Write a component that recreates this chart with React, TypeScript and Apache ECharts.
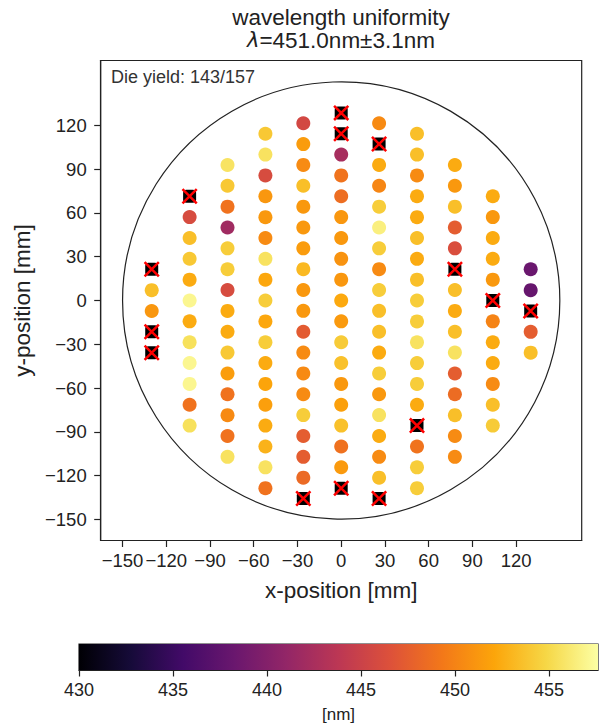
import React, { useEffect, useRef } from "react";
import * as echarts from "echarts";

// Die layout: column x-positions [mm], y of the top die in each column [mm], die pitch in y [mm]
const columnX = [-130, -104, -78, -52, -26, 0, 26, 52, 78, 104, 130];
const columnTopY = [21.4, 71.45, 92.9, 114.3, 121.5, 128.6, 121.5, 114.3, 92.9, 71.45, 21.4];
const dieYPitch = 14.29;

// Peak wavelength [nm] per die, top to bottom in each column; null = failed die
const colM130 = [null, 453.5, 451.2, null, null];
const colM104 = [null, 446.0, 453.5, 454.0, 452.4, 457.0, 452.4, 455.5, 457.0, 457.0, 448.9, 455.5];
const colM78 = [455.7, 454.0, 448.9, 441.9, 454.3, 454.3, 446.0, 452.4, 452.4, 454.0, 451.6, 448.9, 450.4, 448.9, 455.6];
const colM52 = [454.0, 455.6, 446.0, 451.2, 451.3, 450.5, 455.6, 452.2, 454.3, 452.2, 454.3, 452.4, 452.0, 451.7, 452.4, 452.8, 455.6, 448.9];
const colM26 = [445.6, 451.5, 450.5, 453.5, 451.3, 451.3, 451.5, 453.2, 451.3, 451.3, 447.3, 450.5, 450.4, 450.5, 454.3, 447.4, 447.4, 448.3, null];
const col0 = [null, null, 442.4, 449.0, 448.6, 451.2, 451.3, 451.0, 451.2, 452.3, 451.4, 454.2, 453.6, 451.3, 451.8, 453.6, 448.8, 451.4, null];
const colP26 = [450.4, null, 452.4, 450.2, 454.3, 456.5, 454.3, 450.5, 454.3, 453.5, 453.5, 452.4, 454.3, 451.3, 455.6, 452.4, 450.5, 453.5, null];
const colP52 = [453.5, 453.5, 450.5, 452.4, 452.4, 453.5, 452.4, 453.5, 454.3, 454.3, 455.6, 454.3, 454.3, 452.4, null, 449.0, 454.3, 454.3];
const colP78 = [452.4, 451.3, 453.5, 447.4, 446.2, null, 453.5, 452.4, 453.5, 455.6, 447.4, 448.5, 453.5, 450.5, 450.5];
const colP104 = [452.4, 451.3, 452.4, 452.4, 451.3, null, 450.0, 452.4, 452.4, 450.5, 453.5, 454.2];
const colP130 = [438.3, 438.0, null, 447.4, 453.5];
const wavelengthByColumn = [colM130, colM104, colM78, colM52, colM26, col0, colP26, colP52, colP78, colP104, colP130];

const axisTicks = [-150, -120, -90, -60, -30, 0, 30, 60, 90, 120];
const colorbarTicks = [430, 435, 440, 445, 450, 455];
const colorMin = 430;
const colorMax = 457.6;
const waferRadius = 150;
const inferno = [
  "#000004", "#160b39", "#420a68", "#6a176e", "#932667", "#bc3754",
  "#dd513a", "#f37819", "#fca50a", "#f6d746", "#fcffa4",
];

const FONT = "'Liberation Sans', Arial, Helvetica, sans-serif";
const INK = "#222";

function fmt(v: number) {
  return v < 0 ? "\u2212" + Math.abs(v) : String(v);
}

export default function App() {
  const ref = useRef<HTMLDivElement>(null);
  useEffect(() => {
    if (!ref.current) return;
    const chart = echarts.init(ref.current, undefined, { renderer: "svg" });

    const good: number[][] = [];
    const failed: number[][] = [];
    wavelengthByColumn.forEach((vals, ci) => {
      vals.forEach((v, ri) => {
        const x = columnX[ci];
        const y = +(columnTopY[ci] - ri * dieYPitch).toFixed(2);
        if (v === null) failed.push([x, y]);
        else good.push([x, y, v]);
      });
    });
    const yieldText = `Die yield: ${good.length}/${good.length + failed.length}`;

    const gradStops = inferno.map((c, i) => ({ offset: i / (inferno.length - 1), color: c }));
    const xMark = "path://M0,1.1L1.1,0L10,8.9L8.9,10ZM8.9,0L10,1.1L1.1,10L0,8.9Z";

    const mainAxisCommon = {
      type: "value" as const,
      gridIndex: 0,
      splitLine: { show: false },
      axisLine: { show: true, onZero: false, lineStyle: { color: INK, width: 1.2 } },
      axisTick: { show: true, customValues: axisTicks, length: 6.5, lineStyle: { color: INK, width: 1.2 } },
      axisLabel: {
        customValues: axisTicks,
        formatter: (v: number) => fmt(v),
        fontSize: 18.5,
        color: INK,
        fontFamily: FONT,
      },
      nameLocation: "middle" as const,
      nameTextStyle: { fontSize: 22.5, color: INK, fontFamily: FONT },
    };

    chart.setOption({
      animation: false,
      backgroundColor: "#fff",
      grid: [
        { left: 100.7, top: 60.5, width: 481, height: 480, show: true, borderColor: INK, borderWidth: 1.2, backgroundColor: "transparent" },
        { left: 79, top: 644, width: 519, height: 27, show: true, borderColor: INK, borderWidth: 1.2, backgroundColor: "transparent" },
      ],
      xAxis: [
        {
          ...mainAxisCommon,
          min: -165,
          max: 165,
          name: "x-position [mm]",
          nameGap: 38,
          axisLabel: { ...mainAxisCommon.axisLabel, margin: 10 },
        },
        {
          type: "value",
          gridIndex: 1,
          min: colorMin,
          max: colorMax,
          splitLine: { show: false },
          axisLine: { show: true, lineStyle: { color: INK, width: 1.2 } },
          axisTick: { show: true, customValues: colorbarTicks, length: 6.5, lineStyle: { color: INK, width: 1.2 } },
          axisLabel: { customValues: colorbarTicks, fontSize: 18, color: INK, fontFamily: FONT, margin: 11 },
          name: "[nm]",
          nameLocation: "middle",
          nameGap: 36,
          nameTextStyle: { fontSize: 17, color: INK, fontFamily: FONT },
        },
      ],
      yAxis: [
        {
          ...mainAxisCommon,
          min: -164.5,
          max: 164.5,
          name: "y-position [mm]",
          nameGap: 62,
          nameRotate: 90,
          axisLabel: { ...mainAxisCommon.axisLabel, margin: 14 },
        },
        { type: "value", gridIndex: 1, min: 0, max: 1, show: false },
      ],
      visualMap: {
        show: false,
        type: "continuous",
        seriesIndex: 1,
        dimension: 2,
        min: colorMin,
        max: colorMax,
        inRange: { color: inferno },
      },
      graphic: [
        {
          type: "text",
          x: 341,
          y: 17,
          style: { text: "wavelength uniformity", fontSize: 22.5, fontFamily: FONT, fill: INK, align: "center", verticalAlign: "middle" },
        },
        {
          type: "text",
          x: 341,
          y: 40,
          style: {
            text: "{i|\u03bb}=451.0nm\u00b13.1nm",
            fontSize: 22.5,
            fontFamily: FONT,
            fill: INK,
            align: "center",
            verticalAlign: "middle",
            rich: { i: { fontStyle: "italic", fontFamily: "'DejaVu Sans', sans-serif", fontSize: 21, fill: INK } },
          },
        },
        {
          type: "text",
          x: 111,
          y: 77,
          style: { text: yieldText, fontSize: 18, fontFamily: FONT, fill: "#333", align: "left", verticalAlign: "middle" },
        },
      ],
      series: [
        {
          type: "custom",
          xAxisIndex: 0,
          yAxisIndex: 0,
          silent: true,
          z: 1,
          data: [[0, 0, waferRadius]],
          renderItem: (params: any, api: any) => {
            const c = api.coord([0, 0]);
            const r = api.size([waferRadius, 0])[0];
            return {
              type: "circle",
              shape: { cx: c[0], cy: c[1], r },
              style: { fill: "none", stroke: INK, lineWidth: 1.2 },
            };
          },
        },
        {
          type: "scatter",
          xAxisIndex: 0,
          yAxisIndex: 0,
          z: 3,
          symbolSize: 14,
          itemStyle: { opacity: 1 },
          data: good,
        },
        {
          type: "scatter",
          xAxisIndex: 0,
          yAxisIndex: 0,
          z: 4,
          symbol: "roundRect",
          symbolSize: 13,
          itemStyle: { color: "#000", opacity: 1 },
          data: failed,
        },
        {
          type: "scatter",
          xAxisIndex: 0,
          yAxisIndex: 0,
          z: 5,
          symbol: xMark,
          symbolSize: 16,
          itemStyle: { color: "#ff0000", opacity: 1 },
          data: failed,
        },
        {
          type: "custom",
          xAxisIndex: 1,
          yAxisIndex: 1,
          silent: true,
          z: 1,
          data: [[colorMin, 0]],
          renderItem: (params: any, api: any) => {
            const p0 = api.coord([colorMin, 1]);
            const p1 = api.coord([colorMax, 0]);
            return {
              type: "rect",
              shape: { x: p0[0], y: p0[1], width: p1[0] - p0[0], height: p1[1] - p0[1] },
              style: { fill: new echarts.graphic.LinearGradient(0, 0, 1, 0, gradStops) },
            };
          },
        },
      ],
    });

    return () => chart.dispose();
  }, []);

  return (
    <div
      ref={ref}
      style={{ position: "fixed", left: 0, top: 0, width: 599, height: 724, background: "#fff" }}
    />
  );
}
